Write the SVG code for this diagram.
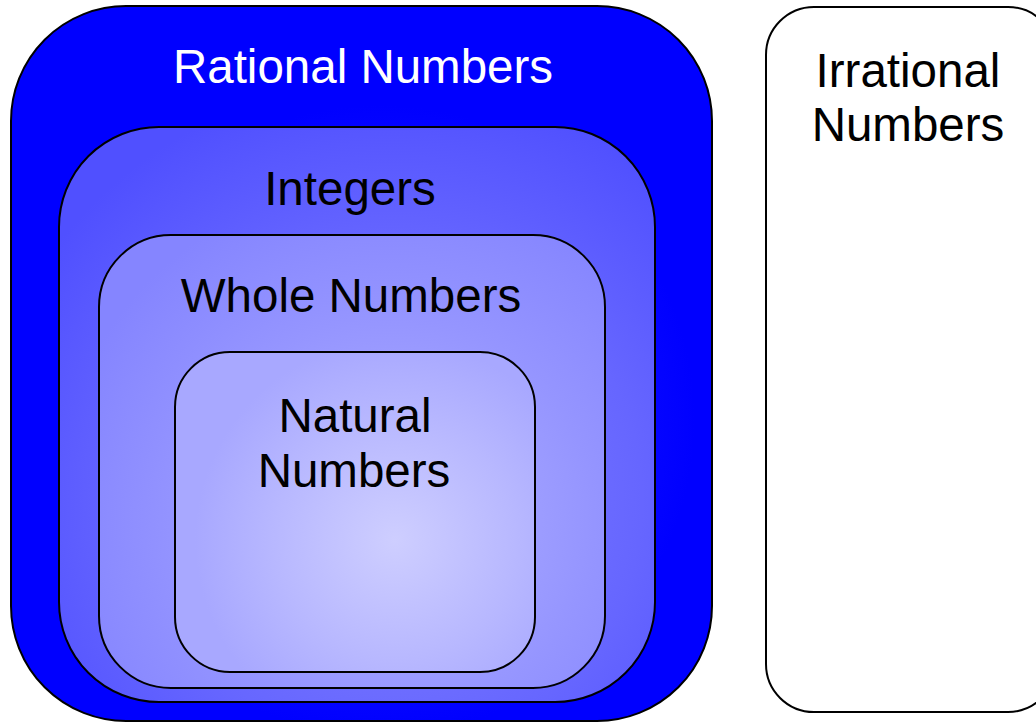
<svg xmlns="http://www.w3.org/2000/svg" width="1036" height="723" viewBox="0 0 1036 723">
  <style>
    .box { stroke: #000; stroke-width: 2; }
    .lbl { font-family: "Liberation Sans", Arial, sans-serif; font-size: 47.5px; text-anchor: middle; fill: #000; }
    .wht { fill: #fff; }
  </style>
  <defs>
    <radialGradient id="gR" gradientUnits="userSpaceOnUse" cx="380" cy="420" r="420">
      <stop offset="0" stop-color="#2222ff"/>
      <stop offset="0.75" stop-color="#0000ff"/>
      <stop offset="1" stop-color="#0000ff"/>
    </radialGradient>
    <radialGradient id="gI" gradientUnits="userSpaceOnUse" cx="390" cy="500" r="420">
      <stop offset="0" stop-color="#8080ff"/>
      <stop offset="0.6" stop-color="#6666ff"/>
      <stop offset="1" stop-color="#5050ff"/>
    </radialGradient>
    <radialGradient id="gW" gradientUnits="userSpaceOnUse" cx="390" cy="520" r="340">
      <stop offset="0" stop-color="#b0b0ff"/>
      <stop offset="0.6" stop-color="#9595ff"/>
      <stop offset="1" stop-color="#8585ff"/>
    </radialGradient>
    <radialGradient id="gN" gradientUnits="userSpaceOnUse" cx="395" cy="540" r="200">
      <stop offset="0" stop-color="#ceceff"/>
      <stop offset="0.6" stop-color="#b8b8ff"/>
      <stop offset="1" stop-color="#a8a8ff"/>
    </radialGradient>
  </defs>
  <rect width="1036" height="723" fill="#fff"/>
  <g id="rational">
    <rect class="box" x="11" y="6" width="701" height="715" rx="115" ry="115" fill="url(#gR)"/>
    <text class="lbl wht" x="363" y="83">Rational Numbers</text>
  </g>
  <g id="integers">
    <rect class="box" x="59" y="127" width="596" height="575" rx="100" ry="100" fill="url(#gI)"/>
    <text class="lbl" x="350" y="205">Integers</text>
  </g>
  <g id="whole">
    <rect class="box" x="99" y="235" width="506" height="453" rx="72" ry="72" fill="url(#gW)"/>
    <text class="lbl" x="351" y="312">Whole Numbers</text>
  </g>
  <g id="natural">
    <rect class="box" x="175" y="352" width="360" height="320" rx="55" ry="55" fill="url(#gN)"/>
    <text class="lbl" x="355" y="432">Natural</text>
    <text class="lbl" x="354" y="487">Numbers</text>
  </g>
  <g id="irrational">
    <rect class="box" x="766" y="7" width="290" height="705" rx="48" ry="48" fill="#fff"/>
    <text class="lbl" x="908" y="87">Irrational</text>
    <text class="lbl" x="908" y="141">Numbers</text>
  </g>
  <g id="connectors"></g>
</svg>
